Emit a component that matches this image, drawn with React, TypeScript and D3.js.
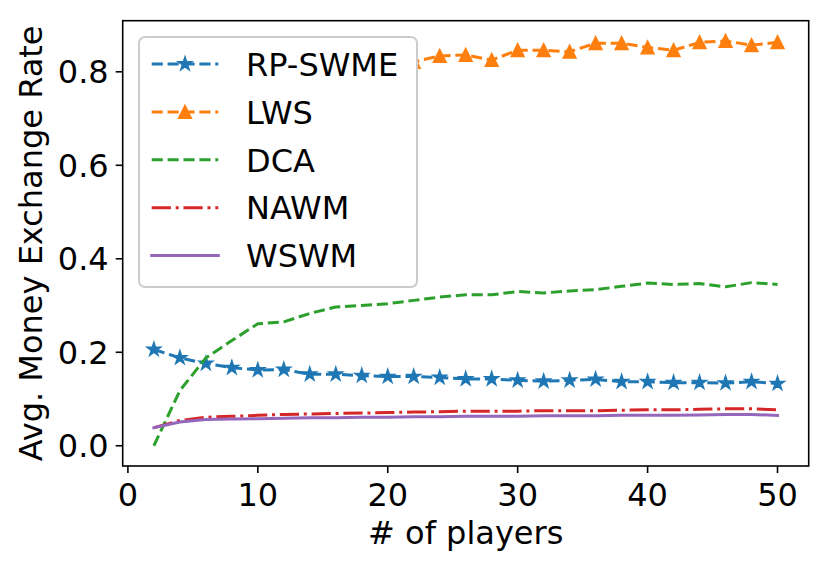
import * as d3 from 'd3';
import React, { useEffect, useRef } from 'react';

// number of players on the x axis
const players = [2, 4, 6, 8, 10, 12, 14, 16, 18, 20, 22, 24, 26, 28, 30, 32, 34, 36, 38, 40, 42, 44, 46, 48, 50];

const rpSwme = [0.206, 0.188, 0.176, 0.167, 0.162, 0.163, 0.153, 0.153, 0.150, 0.148, 0.148, 0.146, 0.143,
  0.143, 0.140, 0.138, 0.140, 0.142, 0.137, 0.137, 0.135, 0.135, 0.134, 0.137, 0.133];
const lws = [0.62, 0.70, 0.74, 0.77, 0.79, 0.80, 0.81, 0.812, 0.815, 0.818, 0.821, 0.834, 0.836,
  0.825, 0.846, 0.846, 0.843, 0.861, 0.861, 0.852, 0.846, 0.863, 0.866, 0.857, 0.863];
const dca = [0.0, 0.118, 0.188, 0.225, 0.261, 0.265, 0.283, 0.297, 0.300, 0.304, 0.311, 0.318, 0.323,
  0.323, 0.330, 0.327, 0.331, 0.334, 0.341, 0.348, 0.345, 0.347, 0.340, 0.349, 0.345];
const nawm = [0.0385, 0.054, 0.061, 0.063, 0.065, 0.067, 0.068, 0.069, 0.070, 0.071, 0.072, 0.073, 0.074,
  0.074, 0.074, 0.075, 0.075, 0.075, 0.076, 0.077, 0.077, 0.078, 0.079, 0.079, 0.077];
const wswm = [0.0385, 0.051, 0.056, 0.057, 0.058, 0.059, 0.060, 0.060, 0.061, 0.061, 0.062, 0.062, 0.063,
  0.063, 0.063, 0.064, 0.064, 0.064, 0.065, 0.065, 0.065, 0.066, 0.067, 0.067, 0.065];

const seriesNames = ['RP-SWME', 'LWS', 'DCA', 'NAWM', 'WSWM'];
const seriesValues = [rpSwme, lws, dca, nawm, wswm];

const xTicks = [0, 10, 20, 30, 40, 50];
const yTicks = [0.0, 0.2, 0.4, 0.6, 0.8];

const colors = ['#1f77b4', '#ff7f0e', '#2ca02c', '#d62728', '#9467bd'];
const dashes = ['11.1,4.8', '11.1,4.8', '11.1,4.8', '19.2,4.8,3,4.8', null];
const markers = ['star', 'triangle', null, null, null];

const FONT = '"DejaVu Sans", sans-serif';

function markerPath(kind: string, r: number) {
  if (kind === 'triangle') {
    return `M0,${-r}L${-r},${r}L${r},${r}Z`;
  }
  const pts: string[] = [];
  for (let k = 0; k < 10; k++) {
    const a = -Math.PI / 2 + (k * Math.PI) / 5;
    const rr = k % 2 === 0 ? r : r * 0.381966;
    pts.push(`${(Math.cos(a) * rr).toFixed(2)},${(Math.sin(a) * rr).toFixed(2)}`);
  }
  return 'M' + pts.join('L') + 'Z';
}

function App() {
  const ref = useRef<SVGSVGElement>(null);

  useEffect(() => {
    const width = 830;
    const height = 568;
    const left = 122.7, right = 808.7, top = 20.7, bottom = 466;

    const svg = d3.select(ref.current);
    svg.selectAll('*').remove();
    svg.attr('width', width).attr('height', height);

    svg.append('rect').attr('width', width).attr('height', height).attr('fill', '#fff');

    const x = d3.scaleLinear().domain([-0.4, 52.4]).range([left, right]);
    const y = d3.scaleLinear().domain([-0.0433, 0.9093]).range([bottom, top]);

    // lines + markers
    seriesValues.forEach((vals, i) => {
      const pts = players.map((p, j) => [p, vals[j]] as [number, number]);
      const line = d3.line<[number, number]>()
        .x(d => x(d[0]))
        .y(d => y(d[1]));
      const path = svg.append('path')
        .attr('d', line(pts))
        .attr('fill', 'none')
        .attr('stroke', colors[i])
        .attr('stroke-width', 3)
        .attr('stroke-linejoin', 'round')
        .attr('stroke-linecap', dashes[i] ? 'butt' : 'square');
      if (dashes[i]) path.attr('stroke-dasharray', dashes[i]);

      const m = markers[i];
      if (m) {
        svg.append('g')
          .selectAll('path')
          .data(pts)
          .enter()
          .append('path')
          .attr('d', markerPath(m, m === 'star' ? 6.3 : 6))
          .attr('transform', d => `translate(${x(d[0])},${y(d[1])})`)
          .attr('fill', colors[i])
          .attr('stroke', colors[i])
          .attr('stroke-width', 2)
          .attr('stroke-linejoin', 'miter');
      }
    });

    // frame
    svg.append('rect')
      .attr('x', left).attr('y', top)
      .attr('width', right - left).attr('height', bottom - top)
      .attr('fill', 'none').attr('stroke', '#000').attr('stroke-width', 1.6);

    // x axis ticks
    const xg = svg.append('g');
    xTicks.forEach(t => {
      xg.append('line')
        .attr('x1', x(t)).attr('x2', x(t))
        .attr('y1', bottom).attr('y2', bottom + 7)
        .attr('stroke', '#000').attr('stroke-width', 1.6);
      xg.append('text')
        .attr('x', x(t)).attr('y', 506)
        .attr('text-anchor', 'middle')
        .attr('font-family', FONT).attr('font-size', 32)
        .text(String(t));
    });

    // y axis ticks
    const yg = svg.append('g');
    yTicks.forEach(t => {
      yg.append('line')
        .attr('x1', left - 7).attr('x2', left)
        .attr('y1', y(t)).attr('y2', y(t))
        .attr('stroke', '#000').attr('stroke-width', 1.6);
      yg.append('text')
        .attr('x', left - 14).attr('y', y(t) + 11.7)
        .attr('text-anchor', 'end')
        .attr('font-family', FONT).attr('font-size', 32)
        .text(t.toFixed(1));
    });

    // axis labels
    svg.append('text')
      .attr('x', (left + right) / 2).attr('y', 544)
      .attr('text-anchor', 'middle')
      .attr('font-family', FONT).attr('font-size', 32)
      .text('# of players');

    svg.append('text')
      .attr('transform', `translate(41.7,${(top + bottom) / 2}) rotate(-90)`)
      .attr('text-anchor', 'middle')
      .attr('font-family', FONT).attr('font-size', 32)
      .text('Avg. Money Exchange Rate');

    // legend
    const lg = svg.append('g');
    lg.append('rect')
      .attr('x', 139).attr('y', 37)
      .attr('width', 278).attr('height', 250)
      .attr('rx', 6).attr('ry', 6)
      .attr('fill', '#fff')
      .attr('stroke', '#cccccc').attr('stroke-width', 2);

    seriesNames.forEach((name, i) => {
      const ly = 64 + i * 47.9;
      const h = lg.append('line')
        .attr('x1', 151.7).attr('x2', 218.3)
        .attr('y1', ly).attr('y2', ly)
        .attr('stroke', colors[i]).attr('stroke-width', 3)
        .attr('stroke-linecap', dashes[i] ? 'butt' : 'square');
      if (dashes[i]) h.attr('stroke-dasharray', dashes[i]);
      const m = markers[i];
      if (m) {
        lg.append('path')
          .attr('d', markerPath(m, m === 'star' ? 6.3 : 6))
          .attr('transform', `translate(185,${ly})`)
          .attr('fill', colors[i]).attr('stroke', colors[i]).attr('stroke-width', 2);
      }
      lg.append('text')
        .attr('x', 246).attr('y', ly + 11.7)
        .attr('font-family', FONT).attr('font-size', 32)
        .text(name);
    });
  });

  return (
    <svg ref={ref} style={{ position: 'absolute', left: 0, top: 0, display: 'block' }}></svg>
  );
}

export default App;
